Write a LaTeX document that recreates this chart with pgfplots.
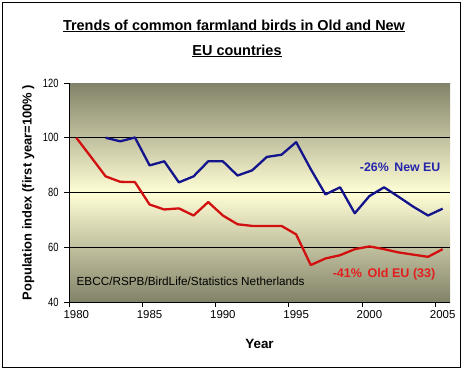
\documentclass[border=0pt]{standalone}
\usepackage{pgfplots}
\pgfplotsset{compat=1.18}
\usepackage{pgfplotstable}
\usepackage{graphicx}
\usepackage{fontspec}
\setmainfont{Liberation Sans}
\definecolor{navyline}{RGB}{20,20,140}
\definecolor{redline}{RGB}{210,16,16}
\definecolor{navytext}{RGB}{36,36,170}
\definecolor{redtext}{RGB}{228,30,30}
\definecolor{bgdark}{RGB}{130,130,104}
\definecolor{bglight}{RGB}{255,254,214}
\newcommand\sq[1]{\scalebox{0.78}[1]{#1}}
\pgfplotstableread{
year value
1980 100
1981 93
1982 85.9
1983 83.9
1984 83.8
1985 75.6
1986 73.8
1987 74.2
1988 71.6
1989 76.5
1990 71.6
1991 68.4
1992 67.8
1993 67.8
1994 67.8
1995 64.7
1996 53.5
1997 55.9
1998 57.1
1999 59.3
2000 60.3
2001 59.3
2002 58.1
2003 57.3
2004 56.5
2005 59.3
}\oldeu
\pgfplotstableread{
year value
1982 100
1983 98.7
1984 100.1
1985 89.9
1986 91.4
1987 83.7
1988 85.9
1989 91.4
1990 91.4
1991 86.2
1992 88.1
1993 93
1994 93.8
1995 98.4
1996 88.5
1997 79.3
1998 81.9
1999 72.4
2000 78.7
2001 81.9
2002 78.4
2003 74.8
2004 71.6
2005 74.1
}\neweu
\begin{document}
\begin{tikzpicture}[x=1bp,y=1bp]
\useasboundingbox (0,0) rectangle (464,372);
\draw[black, line width=0.9bp] (2,5) rectangle (460,370);
\node[font=\bfseries\fontsize{14.5}{17}\selectfont, anchor=base] at (234,342) {\underline{Trends of common farmland birds in Old and New}};
\node[font=\bfseries\fontsize{14.5}{17}\selectfont, anchor=base] at (237,317) {\underline{EU countries}};
\begin{axis}[
  at={(69bp,70bp)}, anchor=south west, scale only axis,
  width=381bp, height=219bp,
  xmin=1979.5, xmax=2005.5, ymin=40, ymax=120,
  axis lines*=left,
  axis line style={black, line width=0.9bp},
  tick align=outside, major tick length=5bp,
  tick style={black, line width=0.9bp},
  xtick={1979.5,1984.5,1989.5,1994.5,1999.5,2004.5},
  xticklabels={1980,1985,1990,1995,2000,2005},
  xticklabel style={xshift=7.33bp, font=\fontsize{11.5}{13}\selectfont},
  ytick={40,60,80,100,120},
  yticklabels={\sq{40},\sq{60},\sq{80},\sq{100},\sq{120}},
  yticklabel style={font=\fontsize{12}{14}\selectfont, xshift=-2bp},
  extra y ticks={60,80,100},
  extra y tick labels={},
  extra y tick style={grid=major, major tick length=0pt},
  grid style={black, line width=0.9bp},
  axis background/.style={shade, top color=bgdark, bottom color=bgdark, middle color=bglight},
  xlabel={Year},
  every axis x label/.style={at={(axis description cs:0.5,0)}, anchor=base, yshift=-46bp},
  xlabel style={font=\bfseries\fontsize{13.5}{15}\selectfont},
  ylabel={Population index (first year=100\% )},
  every axis y label/.style={at={(axis description cs:-0.107,0.5)}, rotate=90, anchor=center},
  ylabel style={font=\bfseries\fontsize{13.0}{15}\selectfont},
  clip=false,
]
\addplot[redline, line width=2.3bp, line join=round] table[x=year, y=value] {\oldeu};
\addplot[navyline, line width=2.3bp, line join=round] table[x=year, y=value] {\neweu};
\node[font=\bfseries\fontsize{12.4}{14}\selectfont, text=navytext] at (axis cs:2002.1,89.1) {-26\%\hspace{0.45em}New EU};
\node[font=\bfseries\fontsize{12.6}{14}\selectfont, text=redtext] at (axis cs:2001.0,50.2) {-41\%\hspace{0.45em}Old EU (33)};
\node[font=\fontsize{11.8}{14}\selectfont, text=black] at (axis cs:1987.8,47.4) {EBCC/RSPB/BirdLife/Statistics Netherlands};
\end{axis}
\end{tikzpicture}
\end{document}
